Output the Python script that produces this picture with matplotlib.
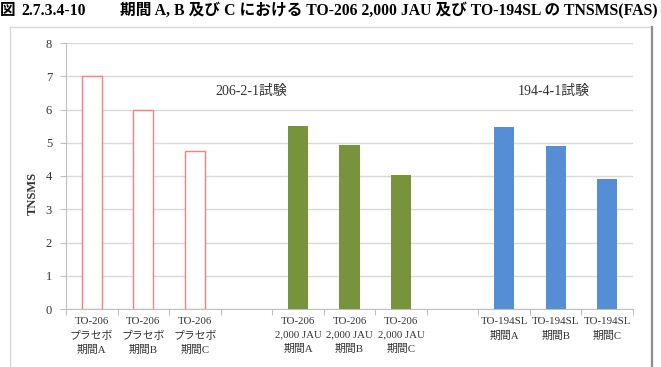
import matplotlib
matplotlib.use("Agg")
import matplotlib.pyplot as plt
from matplotlib.lines import Line2D

plt.rcParams['font.family'] = ['Liberation Serif', 'Noto Sans CJK JP', 'DejaVu Sans']

# data
labels = ["TO-206\nプラセボ\n期間A", "TO-206\nプラセボ\n期間B", "TO-206\nプラセボ\n期間C", "",
          "TO-206\n2,000 JAU\n期間A", "TO-206\n2,000 JAU\n期間B", "TO-206\n2,000 JAU\n期間C", "",
          "TO-194SL\n期間A", "TO-194SL\n期間B", "TO-194SL\n期間C"]
placebo = [7.0, 6.0, 4.75]
jau = [5.5, 4.92, 4.03]
sl194 = [5.48, 4.9, 3.9]
study_labels = ["206-2-1試験", "194-4-1試験"]
yticks = [0, 1, 2, 3, 4, 5, 6, 7, 8]

W, H = 661, 367
fig = plt.figure(figsize=(W / 100, H / 100), dpi=100)

# outer chart frame
fig.add_artist(Line2D([10 / W, 652 / W], [1 - 27 / H, 1 - 27 / H], color='#D9D9D9', lw=1))
fig.add_artist(Line2D([10 / W, 10 / W], [0, 1 - 27 / H], color='#D9D9D9', lw=1))
fig.add_artist(Line2D([652 / W, 652 / W], [0, 1 - 27 / H], color='#8C8C8C', lw=1.6))

ax = fig.add_axes([66 / W, (H - 309) / H, (633 - 66) / W, (309 - 43) / H])

bw = 0.39
ax.bar([0, 1, 2], placebo, width=bw, facecolor='white', edgecolor='#FF7C80', lw=1, zorder=3)
ax.bar([4, 5, 6], jau, width=bw, color='#77933C', zorder=3)
ax.bar([8, 9, 10], sl194, width=bw, color='#558ED5', zorder=3)

ax.set_xlim(-0.5, 10.5)
ax.set_ylim(0, 8)
ax.set_yticks(yticks)
ax.grid(axis='y', color='#D9D9D9', lw=1, zorder=0)

# category labels at centres, tick marks at boundaries
ax.set_xticks([i - 0.5 for i in range(12)])
ax.set_xticklabels([])
ax.set_xticks(range(11), minor=True)
ax.set_xticklabels(labels, minor=True, fontsize=7.8, linespacing=1.55, color='#333333')
ax.tick_params(axis='x', which='major', length=4, color='#BFBFBF', direction='out')
ax.tick_params(axis='x', which='minor', length=0, pad=6)
ax.tick_params(axis='y', length=4, color='#BFBFBF', labelsize=9, labelcolor='#333333', pad=6)

for s in ['top', 'right']:
    ax.spines[s].set_visible(False)
for s in ['left', 'bottom']:
    ax.spines[s].set_color('#BFBFBF')

ax.text(2.39, 6.53, study_labels[0], fontsize=10, va='center', ha='left', color='#333333')
ax.text(8.26, 6.53, study_labels[1], fontsize=10, va='center', ha='left', color='#333333')

fig.text(33 / W, 1 - 193 / H, "TNSMS", rotation=90, fontsize=9, fontweight='bold',
         ha='center', va='center', color='#333333')

# page caption above the chart
fig.text(0, 1 - 11 / H, "図", fontsize=11.3, fontweight='bold', ha='left', va='center')
fig.text(21 / W, 1 - 11 / H, "2.7.3.4-10", fontsize=11.3, fontweight='bold', ha='left', va='center')
fig.text(120 / W, 1 - 11 / H, "期間 A, B 及び C における TO-206 2,000 JAU 及び TO-194SL の TNSMS(FAS)",
         fontsize=11.3, fontweight='bold', ha='left', va='center')

fig.savefig("out.png", dpi=100)
